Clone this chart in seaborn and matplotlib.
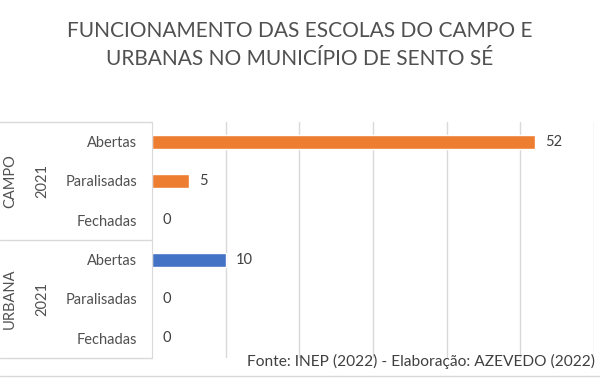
import numpy as np
import pandas as pd
import matplotlib
matplotlib.use("Agg")
import matplotlib.pyplot as plt
import seaborn as sns

# dados do gráfico
grupos = ["CAMPO", "CAMPO", "CAMPO", "URBANA", "URBANA", "URBANA"]
situacao = ["Abertas", "Paralisadas", "Fechadas", "Abertas", "Paralisadas", "Fechadas"]
escolas = [52, 5, 0, 10, 0, 0]
ano = "2021"
cores = {"CAMPO": "#ED7D31", "URBANA": "#4472C4"}

df = pd.DataFrame({"grupo": grupos, "situacao": situacao, "escolas": escolas})
df["linha"] = [f"{g}-{s}" for g, s in zip(grupos, situacao)]

sns.set_style("white")
plt.rcParams["font.family"] = ["Lato", "DejaVu Sans"]
cinza = "#505050"
borda = "#D9D9D9"

fig = plt.figure(figsize=(6, 3.78), dpi=100)
W, H = 600, 378
x0, x1, ytop, ybot = 152, 594, 122, 358
ax = fig.add_axes([x0 / W, 1 - ybot / H, (x1 - x0) / W, (ybot - ytop) / H])

sns.barplot(data=df, y="linha", x="escolas", hue="grupo", palette=cores,
            orient="h", width=0.36, dodge=False, legend=False, ax=ax,
            saturation=1)

ax.set_xlim(0, 60)
ax.set_ylim(5.5, -0.5)
ax.set_xticks(np.arange(10, 61, 10))
ax.xaxis.grid(True, color=borda, linewidth=1)
ax.set_axisbelow(True)
ax.tick_params(axis="x", bottom=False, labelbottom=False)
ax.set_yticks(range(len(situacao)))
ax.set_yticklabels(situacao, color=cinza, fontsize=10.5)
ax.tick_params(axis="y", left=False, pad=7)
ax.set_xlabel("")
ax.set_ylabel("")
for s in ["top", "right", "bottom"]:
    ax.spines[s].set_visible(False)
ax.spines["left"].set_color(borda)

# rótulos de valor
for i, v in enumerate(escolas):
    ax.annotate(str(v), xy=(v, i), xytext=(7.5, 0), textcoords="offset points",
                va="center", ha="left", fontsize=10.5, color="#404040")

# caixa dos rótulos de categoria
for yy in [ytop, (ytop + ybot) / 2, ybot]:
    fig.add_artist(plt.Line2D([0, x0 / W], [1 - yy / H, 1 - yy / H],
                              color=borda, linewidth=1))
fig.add_artist(plt.Line2D([0, 1], [1 - 376 / H, 1 - 376 / H], color=borda, linewidth=1))

meio1 = (ytop + (ytop + ybot) / 2) / 2
meio2 = ((ytop + ybot) / 2 + ybot) / 2
for g, m in [("CAMPO", meio1), ("URBANA", meio2)]:
    fig.text(10 / W, 1 - m / H, g, rotation=90, ha="center", va="center",
             fontsize=10.5, color=cinza)
    fig.text(42 / W, 1 - m / H, ano, rotation=90, ha="center", va="center",
             fontsize=10.5, color=cinza)

fig.text(0.5, 1 - 31 / H, "FUNCIONAMENTO DAS ESCOLAS DO CAMPO E", ha="center",
         va="center", fontsize=15, color=cinza)
fig.text(0.5, 1 - 59 / H, "URBANAS NO MUNICÍPIO DE SENTO SÉ", ha="center",
         va="center", fontsize=15, color=cinza)
fig.text(595 / W, 1 - 361 / H, "Fonte: INEP (2022) - Elaboração: AZEVEDO (2022)",
         ha="right", va="center", fontsize=11.2, color="#404040")

fig.savefig("out.png", dpi=100)
